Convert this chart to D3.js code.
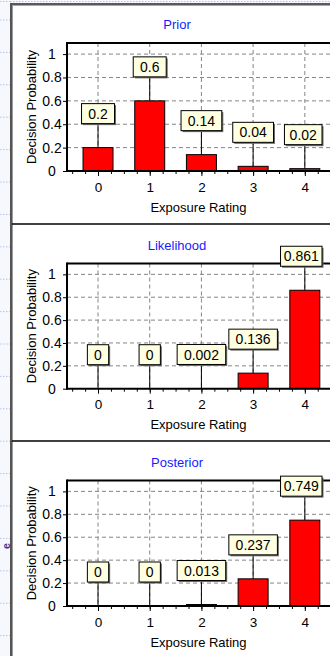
<!DOCTYPE html>
<html>
<head>
<meta charset="utf-8">
<script src="https://cdn.jsdelivr.net/npm/d3@7"></script>
<style>
  body { margin: 0; background: #fff; }
  svg { display: block; font-family: "Liberation Sans", Arial, sans-serif; }
</style>
</head>
<body>
<div id="chart"></div>
<script>
// chart values
const categories = [0, 1, 2, 3, 4];
const panelTitles = ["Prior", "Likelihood", "Posterior"];
const prior      = [0.2, 0.6, 0.14, 0.04, 0.02];
const likelihood = [0, 0, 0.002, 0.136, 0.861];
const posterior  = [0, 0, 0.013, 0.237, 0.749];
const yTicks = [0, 0.2, 0.4, 0.6, 0.8, 1];
const xTitle = "Exposure Rating";
const yTitle = "Decision Probability";

(function() {
  var W = 330, H = 656;
  var series = [prior, likelihood, posterior];

  // layout of the three stacked panels
  var plotTop    = [43, 263.5, 480.5];
  var plotBottom = [171, 388.7, 606];
  var panelLine  = [224, 441];
  var axisX = 67, rightX = 330, labelMaxX = 322;

  var svg = d3.select("#chart").append("svg")
    .attr("width", W).attr("height", H);

  // background strip on the left with faint dotted rules
  svg.append("rect").attr("width", W).attr("height", H).attr("fill", "#f7f8fd");
  svg.append("g").selectAll("line")
    .data(d3.range(0, 21))
    .enter().append("line")
    .attr("x1", 0).attr("x2", 10)
    .attr("y1", function(d) { return 1.5 + (d === 0 ? 0 : 18.5 + (d - 1) * 32.4); })
    .attr("y2", function(d) { return 1.5 + (d === 0 ? 0 : 18.5 + (d - 1) * 32.4); })
    .attr("stroke", "#b8c0ec").attr("stroke-dasharray", "1.5,1.5");
  svg.append("line").attr("x1", 10).attr("x2", W).attr("y1", 1.5).attr("y2", 1.5)
    .attr("stroke", "#b8c0ec").attr("stroke-dasharray", "1.5,1.5");

  // window frame
  svg.append("rect").attr("x", 12).attr("y", 5).attr("width", W - 12).attr("height", H - 5).attr("fill", "#fff");
  svg.append("rect").attr("x", 10).attr("y", 3).attr("width", W - 10).attr("height", 2).attr("fill", "#5a5a5a");
  svg.append("rect").attr("x", 12).attr("y", 5).attr("width", W - 12).attr("height", 1).attr("fill", "#a8a8a8");
  svg.append("rect").attr("x", 10).attr("y", 3).attr("width", 2).attr("height", H).attr("fill", "#555");
  svg.append("rect").attr("x", 12).attr("y", 5).attr("width", 1).attr("height", H).attr("fill", "#9a9a9a");
  panelLine.forEach(function(py) {
    svg.append("line").attr("x1", 12).attr("x2", W).attr("y1", py).attr("y2", py)
      .attr("stroke", "#000").attr("stroke-width", 1.5);
  });

  // stray letter from the page behind the window
  svg.append("text")
    .attr("transform", "translate(9.5,546) rotate(-90)")
    .attr("text-anchor", "middle")
    .attr("font-size", 10.5).attr("font-weight", "bold").attr("fill", "#3a3a8e")
    .text("e");

  var x = d3.scaleLinear().domain([-0.6, 4.6]).range([axisX, axisX + 5.2 * 51.7]);
  var barW = x(0.58) - x(0);

  series.forEach(function(values, p) {
    var top = plotTop[p], bottom = plotBottom[p];
    var y = d3.scaleLinear().domain([0, 1.095]).range([bottom, top]);
    var g = svg.append("g");

    // title
    g.append("text")
      .attr("x", 177).attr("y", top - 14)
      .attr("text-anchor", "middle")
      .attr("font-size", 13).attr("fill", "#1a1aff")
      .text(panelTitles[p]);

    // dashed grid
    g.append("g").selectAll("line")
      .data(yTicks.slice(1))
      .enter().append("line")
      .attr("x1", axisX).attr("x2", rightX)
      .attr("y1", function(d) { return y(d); })
      .attr("y2", function(d) { return y(d); })
      .attr("stroke", "#858585").attr("stroke-dasharray", "4,3");
    g.append("g").selectAll("line")
      .data(categories)
      .enter().append("line")
      .attr("x1", function(d) { return x(d); })
      .attr("x2", function(d) { return x(d); })
      .attr("y1", top).attr("y2", bottom)
      .attr("stroke", "#858585").attr("stroke-dasharray", "4,3");

    // bars
    g.append("g").selectAll("rect")
      .data(values)
      .enter().append("rect")
      .attr("x", function(d, i) { return x(categories[i]) - barW / 2; })
      .attr("y", function(d) { return y(d); })
      .attr("width", barW)
      .attr("height", function(d) { return bottom - y(d); })
      .attr("fill", function(d) { return d > 0.005 ? "#ff0000" : "none"; })
      .attr("stroke", function(d) { return d > 0.005 ? "#000" : "none"; })
      .attr("stroke-width", 1);

    // x axis: minor and major ticks
    var minor = d3.axisBottom(x).tickValues(d3.range(-0.5, 4.51, 0.25)).tickSize(3).tickFormat("");
    var gm = g.append("g").attr("transform", "translate(0," + bottom + ")").call(minor);
    gm.select(".domain").remove();
    gm.selectAll("line").attr("stroke", "#000");

    var xAxis = d3.axisBottom(x).tickValues(categories).tickSize(5).tickPadding(6).tickFormat(d3.format("d"));
    var gx = g.append("g").attr("transform", "translate(0," + bottom + ")").call(xAxis);
    gx.select(".domain").remove();
    gx.selectAll("line").attr("stroke", "#000");
    gx.selectAll("text").attr("font-size", 13.5).attr("font-family", null).attr("fill", "#000");

    // y axis
    var yAxis = d3.axisLeft(y).tickValues(yTicks).tickSize(4).tickFormat(function(d) { return String(d); });
    var gy = g.append("g").attr("transform", "translate(" + axisX + ",0)").call(yAxis);
    gy.select(".domain").remove();
    gy.selectAll("line").attr("stroke", "#000");
    gy.selectAll("text")
      .attr("x", -15).attr("text-anchor", "middle")
      .attr("font-size", 14).attr("font-family", null).attr("fill", "#000");

    // plot frame
    g.append("line").attr("x1", axisX).attr("x2", rightX).attr("y1", bottom).attr("y2", bottom)
      .attr("stroke", "#000").attr("stroke-width", 2);
    g.append("line").attr("x1", axisX).attr("x2", rightX).attr("y1", top).attr("y2", top)
      .attr("stroke", "#000").attr("stroke-width", 2);
    g.append("line").attr("x1", axisX).attr("x2", axisX).attr("y1", top - 1).attr("y2", bottom + 1)
      .attr("stroke", "#000").attr("stroke-width", 2);

    // axis titles
    g.append("text")
      .attr("x", 198.5).attr("y", bottom + 40.5)
      .attr("text-anchor", "middle").attr("font-size", 13)
      .text(xTitle);
    g.append("text")
      .attr("transform", "translate(36," + ((top + bottom) / 2) + ") rotate(-90)")
      .attr("text-anchor", "middle").attr("font-size", 13)
      .text(yTitle);

    // value call-outs
    var callouts = g.append("g").selectAll("g")
      .data(values)
      .enter().append("g");
    callouts.each(function(d, i) {
      var c = d3.select(this);
      var cx = x(categories[i]);
      var barTop = y(d);
      var boxBottom = barTop - 24, boxH = 20;
      var t = c.append("text").attr("font-size", 14).text(String(d));
      var tw = t.node().getComputedTextLength();
      var x0 = cx - (tw + 13.5) / 2;
      var x1 = Math.min(cx + (tw + 13.5) / 2, labelMaxX);
      c.insert("line", "text")
        .attr("x1", cx).attr("x2", cx)
        .attr("y1", boxBottom).attr("y2", barTop)
        .attr("stroke", "#000").attr("stroke-width", 1);
      c.insert("rect", "text")
        .attr("x", x0 + 1.5).attr("y", boxBottom - boxH + 1.5)
        .attr("width", x1 - x0).attr("height", boxH)
        .attr("fill", "#6a6a6a");
      c.insert("rect", "text")
        .attr("x", x0).attr("y", boxBottom - boxH)
        .attr("width", x1 - x0).attr("height", boxH)
        .attr("fill", "#ffffe1").attr("stroke", "#000").attr("stroke-width", 1);
      t.attr("x", (x0 + x1) / 2).attr("y", boxBottom - boxH / 2)
        .attr("dy", "0.36em").attr("text-anchor", "middle");
    });
  });
})();
</script>
</body>
</html>
